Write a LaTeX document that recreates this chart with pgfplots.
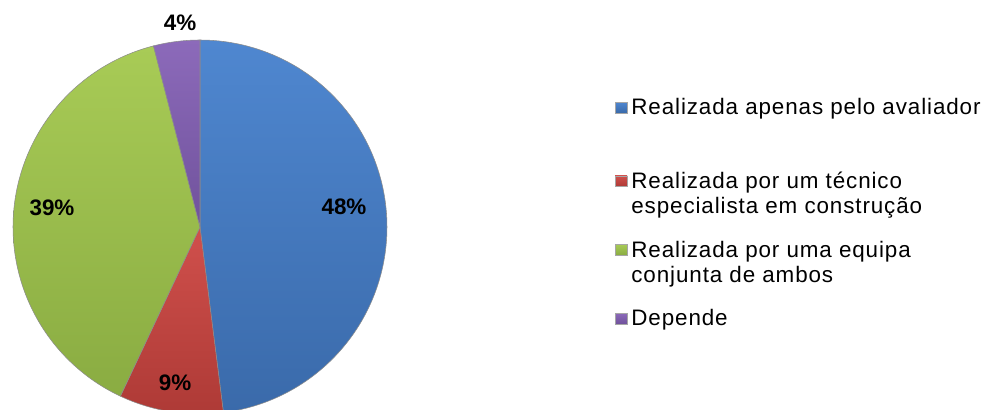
\documentclass[border=0pt]{standalone}
\usepackage{pgfplots}
\pgfplotsset{compat=1.18}
\usepackage{fontspec}
\setmainfont{Liberation Sans}
\newfontfamily\legfont[LetterSpace=4]{Liberation Sans}
\definecolor{cBlueT}{HTML}{4F87D0}
\definecolor{cBlueB}{HTML}{3A6AAA}
\definecolor{cRedT}{HTML}{D0504C}
\definecolor{cRedB}{HTML}{AE3A36}
\definecolor{cGreenT}{HTML}{A8CB56}
\definecolor{cGreenB}{HTML}{8AAC42}
\definecolor{cPurpT}{HTML}{8C6ABA}
\definecolor{cPurpB}{HTML}{70529C}
% data (percent)
\def\pA{48}\def\pB{9}\def\pC{39}\def\pD{4}
\begin{document}
\begin{tikzpicture}
\pgfmathsetmacro\aA{90}
\pgfmathsetmacro\aB{90-3.6*\pA}
\pgfmathsetmacro\aC{\aB-3.6*\pB}
\pgfmathsetmacro\aD{\aC-3.6*\pC}
\pgfmathsetmacro\aE{\aD-3.6*\pD}
\begin{axis}[
  at={(0,0)}, anchor=origin,
  scale only axis, width=736.5pt, height=307.5pt,
  xmin=0, xmax=982, ymin=0, ymax=410,
  hide axis, clip=true,
  legend cell align=left,
  legend image code/.code={\path[#1, draw=black!35, line width=0.3pt] (0pt,1.5pt) rectangle (9pt,9.5pt);},
  legend style={at={(axis cs:615,311.5)}, anchor=north west, draw=none, fill=none,
    inner sep=0pt, outer sep=0pt, row sep=14pt, column sep=3pt,
    cells={anchor=base west},
    nodes={inner sep=0pt, outer sep=0pt, text depth=},
    font=\legfont\fontsize{16.8}{18.75}\selectfont},
]
\addplot[top color=cBlueT, bottom color=cBlueB, draw=black!45, line width=0.4pt, domain=\aA:\aB, samples=120, variable=\t]
  ({200+187*cos(\t)},{183+187*sin(\t)}) -- (axis cs:200,183) -- cycle;
\addlegendentry{Realizada apenas pelo avaliador\rule[-28.125pt]{0pt}{28.125pt}}
\addplot[top color=cRedT, bottom color=cRedB, draw=black!45, line width=0.4pt, domain=\aB:\aC, samples=40, variable=\t]
  ({200+187*cos(\t)},{183+187*sin(\t)}) -- (axis cs:200,183) -- cycle;
\addlegendentry{\begin{tabular}[t]{@{}l@{}}Realizada por um técnico\\especialista em construção\end{tabular}}
\addplot[top color=cGreenT, bottom color=cGreenB, draw=black!45, line width=0.4pt, domain=\aC:\aD, samples=120, variable=\t]
  ({200+187*cos(\t)},{183+187*sin(\t)}) -- (axis cs:200,183) -- cycle;
\addlegendentry{\begin{tabular}[t]{@{}l@{}}Realizada por uma equipa\\conjunta de ambos\end{tabular}}
\addplot[top color=cPurpT, bottom color=cPurpB, draw=black!45, line width=0.4pt, domain=\aD:\aE, samples=20, variable=\t]
  ({200+187*cos(\t)},{183+187*sin(\t)}) -- (axis cs:200,183) -- cycle;
\addlegendentry{Depende\strut}
\begin{scope}[every node/.style={font=\bfseries\fontsize{16.8}{18}\selectfont}]
\node at (axis cs:344,203) {\pA\%};
\node at (axis cs:175,27) {\pB\%};
\node at (axis cs:52,202) {\pC\%};
\end{scope}
\end{axis}
\node[font=\bfseries\fontsize{16.8}{18}\selectfont] at (180pt*0.75,387pt*0.75) {\pD\%};
\pgfresetboundingbox
\path[use as bounding box] (0,0) rectangle (736.5pt,307.5pt);
\end{tikzpicture}
\end{document}
